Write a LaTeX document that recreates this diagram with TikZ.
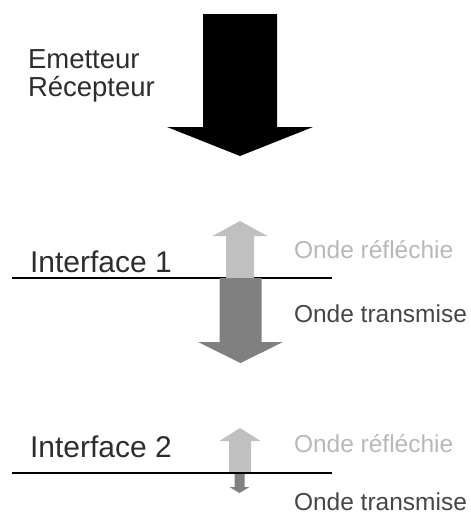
\documentclass[tikz,border=0pt]{standalone}
\usepackage{fontspec}
\setmainfont{Liberation Sans}
\usetikzlibrary{calc}
\definecolor{reflgray}{RGB}{192,192,192}
\definecolor{transgray}{RGB}{128,128,128}
\definecolor{labelgray}{RGB}{45,45,45}
\definecolor{reflabel}{RGB}{184,184,184}
\definecolor{translabel}{RGB}{70,70,70}
\tikzstyle{big} = [inner sep=0, outer sep=0, anchor=base west, align=left,
    text=labelgray, font=\fontsize{27.5}{28}\selectfont]
\tikzstyle{small} = [inner sep=0, outer sep=0, anchor=base west,
    font=\fontsize{24.5}{24}\selectfont]
\tikzstyle{interface} = [draw=black, line width=1.3]
% block arrow: [colour] {x} {tail y} {head base y} {tip y} {shaft width} {head width}
\newcommand{\blockarrow}[7][black]{%
  \fill[#1] ({#2-#6/2},#3) -- ({#2-#6/2},#4) -- ({#2-#7/2},#4) -- (#2,#5)
    -- ({#2+#7/2},#4) -- ({#2+#6/2},#4) -- ({#2+#6/2},#3) -- cycle;}

\begin{document}
\begin{tikzpicture}[x=1pt, y=-1pt]
\useasboundingbox (0,0) rectangle (471,514);

%%% source
\node[big] (src) at (28,96) {Emetteur\\R\'ecepteur};
\blockarrow[black]{240}{14}{127}{156}{74}{146}

%%% interface 1
\coordinate (i1a) at (12,278);
\coordinate (i1b) at (332,278);
\draw[interface] (i1a) -- (i1b);
\blockarrow[reflgray]{240}{278}{236}{221}{28}{55}
\blockarrow[transgray]{240.5}{278}{342}{363}{42}{85}
\node[big, font=\fontsize{30}{24}\selectfont] (if1) at (30,272) {Interface 1};
\node[small, text=reflabel] (r1) at (294,258) {Onde r\'efl\'echie};
\node[small, text=translabel] (t1) at (294,322) {Onde transmise};

%%% interface 2
\coordinate (i2a) at (12,473);
\coordinate (i2b) at (332,473);
\blockarrow[reflgray]{240}{474}{441}{428}{22}{41}
\blockarrow[transgray]{239.5}{473}{487}{493}{10}{20}
\draw[interface] (i2a) -- (i2b);
\node[big, font=\fontsize{30}{24}\selectfont] (if2) at (30,457) {Interface 2};
\node[small, text=reflabel] (r2) at (294,452) {Onde r\'efl\'echie};
\node[small, text=translabel] (t2) at (294,510) {Onde transmise};

\end{tikzpicture}
\end{document}
